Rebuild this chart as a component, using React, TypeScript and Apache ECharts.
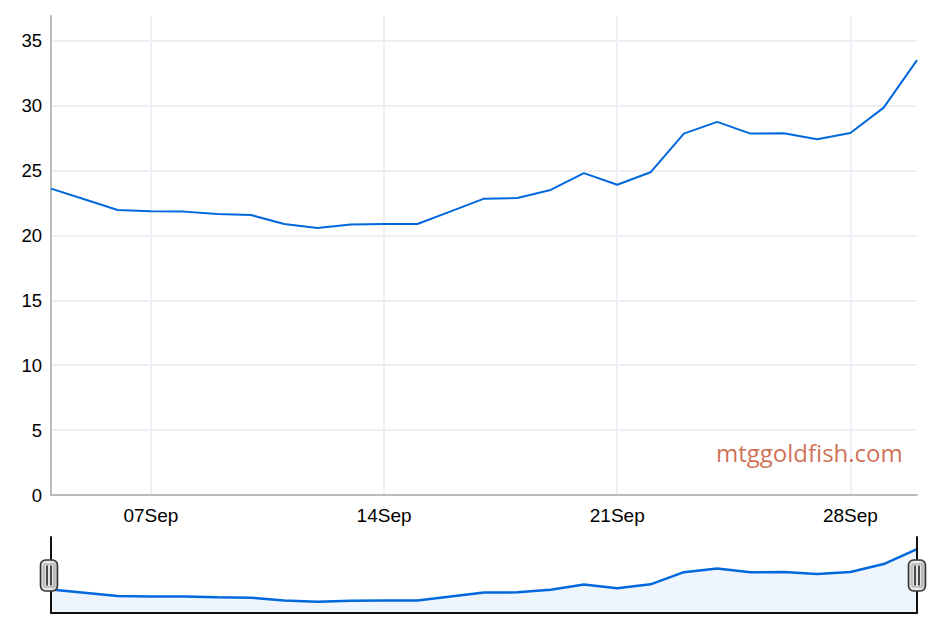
import React, { useEffect, useRef } from "react";
import * as echarts from "echarts";

// Dates (Sep 4 .. Sep 30) as axis categories
const categories = [
  "04Sep", "05Sep", "06Sep", "07Sep", "08Sep", "09Sep", "10Sep", "11Sep", "12Sep",
  "13Sep", "14Sep", "15Sep", "16Sep", "17Sep", "18Sep", "19Sep", "20Sep", "21Sep",
  "22Sep", "23Sep", "24Sep", "25Sep", "26Sep", "27Sep", "28Sep", "29Sep", "30Sep",
];

// Price values
const prices = [
  23.6, 22.78, 21.96, 21.86, 21.83, 21.65, 21.57, 20.88, 20.57,
  20.83, 20.88, 20.88, 21.85, 22.83, 22.88, 23.5, 24.8, 23.9,
  24.86, 27.84, 28.74, 27.84, 27.87, 27.4, 27.89, 29.84, 33.5,
];

// Labelled ticks on the x axis
const xTickLabels = ["07Sep", "14Sep", "21Sep", "28Sep"];

const yMax = 36.9;
const miniMin = 17.8;
const miniMax = 36.5;

const LINE = "#0068dd";

function handle(cx: number, cy: number) {
  const w = 17;
  const h = 31;
  return {
    type: "group",
    z: 100,
    children: [
      {
        type: "rect",
        z: 100,
        shape: { x: cx - w / 2, y: cy - h / 2, width: w, height: h, r: 5 },
        style: {
          fill: new echarts.graphic.LinearGradient(0, 0, 1, 0, [
            { offset: 0, color: "#cfcfcf" },
            { offset: 0.5, color: "#f2f2f2" },
            { offset: 1, color: "#b8b8b8" },
          ]),
          stroke: "#333333",
          lineWidth: 1.6,
        },
      },
      {
        type: "rect",
        z: 101,
        shape: { x: cx - 5, y: cy - 11.5, width: 10, height: 23, r: 2 },
        style: { fill: "#e4e4e4", stroke: "#8a8a8a", lineWidth: 0.8 },
      },
      {
        type: "line",
        z: 102,
        shape: { x1: cx - 2, y1: cy - 10, x2: cx - 2, y2: cy + 10 },
        style: { stroke: "#4a4a4a", lineWidth: 2 },
      },
      {
        type: "line",
        z: 102,
        shape: { x1: cx + 2, y1: cy - 10, x2: cx + 2, y2: cy + 10 },
        style: { stroke: "#4a4a4a", lineWidth: 2 },
      },
    ],
  };
}

export default function App() {
  const ref = useRef<HTMLDivElement>(null);

  useEffect(() => {
    document.body.style.margin = "0";
    if (!ref.current) return;
    const chart = echarts.init(ref.current, null, { renderer: "svg" });
    const isTick = (_i: number, v: string) => xTickLabels.indexOf(v) >= 0;

    chart.setOption({
      animation: false,
      backgroundColor: "#ffffff",
      grid: [
        { left: 51, right: 31, top: 16, height: 479 },
        { left: 51, right: 31, top: 537, height: 76 },
      ],
      xAxis: [
        {
          type: "category",
          gridIndex: 0,
          data: categories,
          boundaryGap: false,
          axisLine: { show: true, lineStyle: { color: "#bbbbbb", width: 2 } },
          axisTick: { show: false },
          axisLabel: {
            interval: isTick,
            color: "#000",
            fontSize: 19,
            fontFamily: "Liberation Sans, Arial, sans-serif",
            margin: 11,
          },
          splitLine: {
            show: true,
            interval: isTick,
            lineStyle: { color: "#eeeef4", width: 2 },
          },
        },
        {
          type: "category",
          gridIndex: 1,
          data: categories,
          boundaryGap: false,
          z: 5,
          axisLine: { show: true, lineStyle: { color: "#111", width: 2 } },
          axisTick: { show: false },
          axisLabel: { show: false },
          splitLine: { show: false },
        },
      ],
      yAxis: [
        {
          type: "value",
          gridIndex: 0,
          min: 0,
          max: yMax,
          interval: 5,
          axisLine: { show: true, lineStyle: { color: "#bbbbbb", width: 2 } },
          axisTick: { show: false },
          axisLabel: {
            color: "#000",
            fontSize: 18.5,
            fontFamily: "Liberation Sans, Arial, sans-serif",
            margin: 9,
            showMaxLabel: false,
          },
          splitLine: {
            show: true,
            showMinLine: false,
            showMaxLine: false,
            lineStyle: { color: "#eeeef4", width: 2 },
          },
        },
        {
          type: "value",
          gridIndex: 1,
          min: miniMin,
          max: miniMax,
          position: "left",
          z: 5,
          axisLine: { show: true, lineStyle: { color: "#111", width: 2 } },
          axisTick: { show: false },
          axisLabel: { show: false },
          splitLine: { show: false },
        },
        {
          type: "value",
          gridIndex: 1,
          min: miniMin,
          max: miniMax,
          position: "right",
          z: 5,
          axisLine: { show: true, lineStyle: { color: "#111", width: 2 } },
          axisTick: { show: false },
          axisLabel: { show: false },
          splitLine: { show: false },
        },
      ],
      series: [
        {
          type: "line",
          xAxisIndex: 0,
          yAxisIndex: 0,
          data: prices,
          showSymbol: false,
          lineStyle: { color: LINE, width: 2 },
          itemStyle: { color: LINE },
        },
        {
          type: "line",
          xAxisIndex: 1,
          yAxisIndex: 1,
          data: prices,
          showSymbol: false,
          lineStyle: { color: LINE, width: 2.5 },
          itemStyle: { color: LINE },
          areaStyle: { color: "#eef5fd", opacity: 1, origin: "start" },
        },
      ],
      graphic: [
        {
          type: "text",
          left: 716,
          top: 440,
          z: 50,
          style: {
            text: "mtggoldfish.com",
            fill: "rgba(200,86,56,0.85)",
            font: "24px 'Open Sans', 'Noto Sans', sans-serif",
          },
        },
        handle(49, 575.5),
        handle(917, 575.5),
      ],
    });
    return () => chart.dispose();
  }, []);

  return <div ref={ref} style={{ width: 948, height: 632 }} />;
}
